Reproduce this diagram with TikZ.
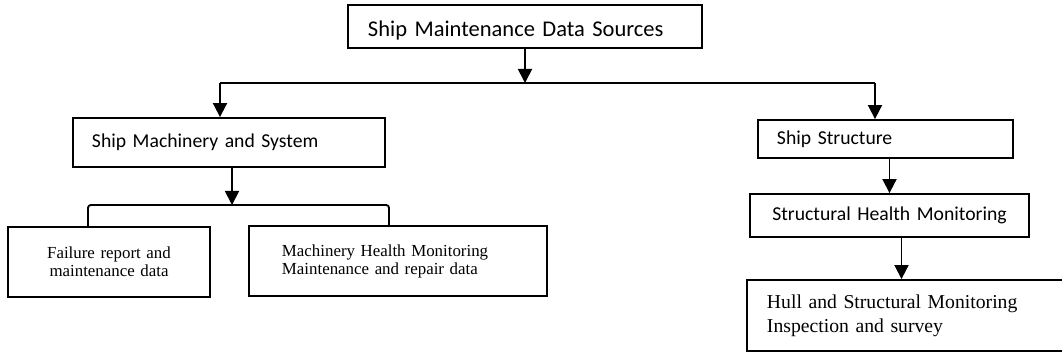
\documentclass[tikz,border=0pt]{standalone}
\usepackage{fontspec}
\setmainfont{Liberation Serif}
\newfontfamily\calfont{Carlito}
\usetikzlibrary{arrows.meta}
\tikzset{
  box/.style={draw,line width=1.3pt,inner sep=0pt,font=\calfont\fontsize{14}{16}\selectfont},
  serifbox/.style={box,font=\fontsize{12}{12.8}\selectfont},
  arr/.style={line width=1.3pt,-{Triangle[length=10pt,width=10pt]}}
}
\begin{document}
\begin{tikzpicture}[x=0.025cm,y=-0.025cm]
                \useasboundingbox (0,0) rectangle (1062,354);
                %% Boxes
                \node[box,minimum width=8.85cm,minimum height=1.075cm,text width=7.85cm,align=left,text height=17pt,
                      font=\calfont\fontsize{16}{18}\selectfont] (src) at (525,26.5) {Ship Maintenance Data Sources};
                \node[box,minimum width=7.8cm,minimum height=1.225cm,text width=6.85cm,align=left] (mach) at (229,142.5) {Ship Machinery and System};
                \node[box,minimum width=6.375cm,minimum height=0.95cm,text width=5.425cm,align=left] (struct) at (885.5,139) {Ship Structure};
                \node[box,minimum width=6.975cm,minimum height=1.075cm,text width=6.5cm,align=center] (shm) at (889.5,215.5) {Structural Health Monitoring};
                \node[serifbox,minimum width=5.05cm,minimum height=1.75cm,text width=4.6cm,align=center] (fail) at (109,262) {Failure report and\\maintenance data};
                \node[serifbox,minimum width=7.45cm,minimum height=1.75cm,text width=5.8cm,align=left] (mhm) at (398,261) {Machinery Health Monitoring\\Maintenance and repair data};
                \node[serifbox,minimum width=8.075cm,minimum height=1.775cm,text width=7.075cm,align=left,
                      font=\fontsize{14}{17}\selectfont] (hull) at (908.5,315.5) {Hull and Structural Monitoring\\Inspection and survey};
                %% Bus lines
                \coordinate (busL) at (220,83);
                \coordinate (busR) at (875,83);
                \coordinate (brkL) at (88,205);
                \coordinate (brkR) at (389,205);
                \coordinate (brk) at (232,205);
                \draw[line width=1.3pt] (busL) -- (busR);
                \draw[line width=1.3pt,rounded corners=2pt] (brkL |- fail.north) -- (brkL) -- (brkR) -- (brkR |- mhm.north);
                %% Arrows
                \draw[arr] (src.south) -- (src.south |- busL);
                \draw[arr] (busL) -- (busL |- mach.north);
                \draw[arr] (busR) -- (busR |- struct.north);
                \draw[arr] (brk |- mach.south) -- (brk);
                \draw[arr] (struct.south -| shm.north) -- (shm.north);
                \draw[arr] ([xshift=0.3cm]shm.south) -- ([xshift=0.3cm]shm.south |- hull.north);
            \end{tikzpicture}
\end{document}
